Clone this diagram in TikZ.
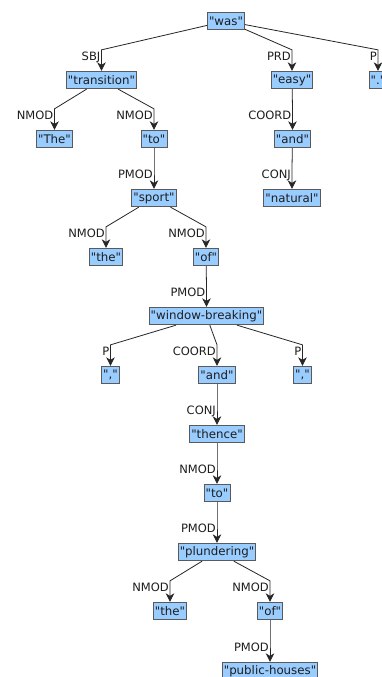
\documentclass[tikz,border=0pt]{standalone}
\usepackage{fontspec}
% plain family: no TeX mapping, so " stays a straight quote
\newfontfamily\dvs{DejaVu Sans}
\usetikzlibrary{arrows.meta}
\definecolor{boxblue}{RGB}{153,204,255}
\definecolor{boxline}{RGB}{90,90,90}
\definecolor{txt}{RGB}{30,30,30}
\tikzset{
  word/.style={draw=boxline, fill=boxblue, line width=0.8pt, text=txt,
    inner xsep=1.6pt, inner ysep=0pt, minimum height=17.5pt,
    font=\dvs\fontsize{11.8}{13}\selectfont},
  edge/.style={draw=black!85, line width=0.8pt,
    -{Stealth[length=8.5pt, width=8.5pt, inset=2.5pt]}},
  lbl/.style={text=txt, inner sep=0pt, anchor=north east,
    font=\dvs\fontsize{11.5}{13}\selectfont},
}
% parent -> bend above child -> child, relation label left of the drop
\newcommand\depedge[3]{%
  \draw[edge] (#1) -- ([yshift=21pt]#2.north) -- (#2.north);
  \node[lbl] at ([xshift=-1pt,yshift=19pt]#2.north) {#3};
}
\begin{document}
\begin{tikzpicture}[x=1pt, y=-1pt]
\clip (0,0) rectangle (382,677);
\fill[white] (0,0) rectangle (382,677);

\node[word] (was)        at (226,21)   {"was"};
\node[word] (transition) at (101.5,80) {"transition"};
\node[word] (easy)       at (292,80)   {"easy"};
\node[word] (dot)        at (378,80)   {"."};
\node[word] (The)        at (54.5,139) {"The"};
\node[word] (toA)        at (154,139)  {"to"};
\node[word] (andA)       at (292.5,139){"and"};
\node[word] (sport)      at (154,198)  {"sport"};
\node[word] (natural)    at (292,198)  {"natural"};
\node[word] (theA)       at (106,257)  {"the"};
\node[word] (ofA)        at (206,257)  {"of"};
\node[word] (wb)         at (206.5,316){"window-breaking"};
\node[word] (commaA)     at (110.5,375){","};
\node[word] (andB)       at (217,375)  {"and"};
\node[word] (commaB)     at (302.5,375){","};
\node[word] (thence)     at (217,434)  {"thence"};
\node[word] (toB)        at (217,493)  {"to"};
\node[word] (plundering) at (217,552)  {"plundering"};
\node[word] (theB)       at (170,611)  {"the"};
\node[word] (ofB)        at (270,611)  {"of"};
\node[word] (ph)         at (270,671)  {"public-houses"};

\depedge{was}{transition}{SBJ}
\depedge{was}{easy}{PRD}
\depedge{was}{dot}{P}
\depedge{transition}{The}{NMOD}
\depedge{transition}{toA}{NMOD}
\depedge{easy}{andA}{COORD}
\depedge{andA}{natural}{CONJ}
\depedge{toA}{sport}{PMOD}
\depedge{sport}{theA}{NMOD}
\depedge{sport}{ofA}{NMOD}
\depedge{ofA}{wb}{PMOD}
\depedge{wb}{commaA}{P}
\depedge{wb}{andB}{COORD}
\depedge{wb}{commaB}{P}
\depedge{andB}{thence}{CONJ}
\depedge{thence}{toB}{NMOD}
\depedge{toB}{plundering}{PMOD}
\depedge{plundering}{theB}{NMOD}
\depedge{plundering}{ofB}{NMOD}
\depedge{ofB}{ph}{PMOD}
\end{tikzpicture}
\end{document}
